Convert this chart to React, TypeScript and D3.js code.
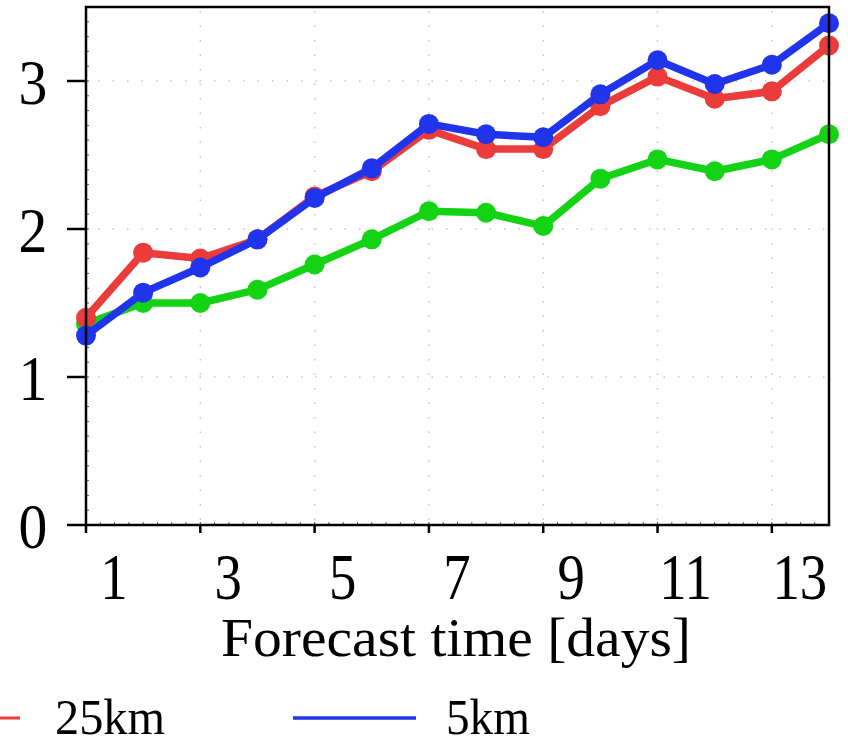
import React from 'react'
import * as d3 from 'd3'

// forecast days
const days = [1, 2, 3, 4, 5, 6, 7, 8, 9, 10, 11, 12, 13, 14]

// series values
const red25km = [1.40, 1.84, 1.80, 1.93, 2.22, 2.39, 2.67, 2.54, 2.54, 2.83, 3.03, 2.88, 2.93, 3.24]
const blue5km = [1.28, 1.57, 1.74, 1.93, 2.21, 2.41, 2.71, 2.64, 2.62, 2.91, 3.14, 2.98, 3.11, 3.39]
const greenSeries = [1.36, 1.50, 1.50, 1.59, 1.76, 1.93, 2.12, 2.11, 2.02, 2.34, 2.47, 2.39, 2.47, 2.64]

const xTicks = [1, 3, 5, 7, 9, 11, 13]
const yTicks = [0, 1, 2, 3]
const legendLabels = ['25km', '5km']

const RED = '#ec3b3b'
const BLUE = '#2034ec'
const GREEN = '#14d214'

const W = 848
const H = 746
const FONT = '"Liberation Serif", "DejaVu Serif", serif'

const App = () => {
    const margin = { left: 86, right: 19, top: 7, bottom: 221 }

    const x = d3.scaleLinear().domain([1, 14]).range([margin.left, W - margin.right])
    const y = d3.scaleLinear().domain([0, 3.5]).range([H - margin.bottom, margin.top])

    const line = d3.line<number>()
        .x((d, i) => x(days[i]))
        .y(d => y(d))

    const series = [
        { vals: greenSeries, color: GREEN },
        { vals: red25km, color: RED },
        { vals: blue5km, color: BLUE },
    ]

    const x0 = x.range()[0], x1 = x.range()[1]
    const y0 = y.range()[0], y1 = y.range()[1]

    // minor ticks along the axes
    const xMinor = d3.range(1, 14.01, 0.25)
    const yMinor = d3.range(0, 3.51, 0.1)

    return (
        <svg width={W} height={H} style={{ position: 'absolute', left: 0, top: 0, background: '#fff' }}>
            {/* grid */}
            <g stroke="#c4c4c4" strokeWidth={1.5} strokeDasharray="1.5,13">
                {xTicks.slice(1).map(t => (
                    <line key={'gx' + t} x1={x(t)} x2={x(t)} y1={y1 + 4} y2={y0} />
                ))}
                {yTicks.slice(1).map(t => (
                    <line key={'gy' + t} x1={x0 + 12} x2={x1} y1={y(t)} y2={y(t)} />
                ))}
            </g>

            {/* minor ticks */}
            <g stroke="#555" strokeWidth={1}>
                {xMinor.map(t => (
                    <line key={'mx' + t} x1={x(t)} x2={x(t)} y1={y0} y2={y0 - 3} />
                ))}
                {yMinor.map(t => (
                    <line key={'my' + t} x1={x0} x2={x0 + 3} y1={y(t)} y2={y(t)} />
                ))}
            </g>

            {/* series */}
            {series.map((s, k) => (
                <g key={k}>
                    <path d={line(s.vals) || ''} fill="none" stroke={s.color} strokeWidth={7.5} strokeLinejoin="round" />
                    {s.vals.map((v, i) => (
                        <circle key={i} cx={x(days[i])} cy={y(v)} r={10} fill={s.color} />
                    ))}
                </g>
            ))}

            {/* frame */}
            <rect x={x0} y={y1} width={x1 - x0} height={y0 - y1} fill="none" stroke="#000" strokeWidth={2.5} />

            {/* y axis */}
            {yTicks.map(t => (
                <g key={'y' + t}>
                    <line x1={x0 - 19} x2={x0} y1={y(t)} y2={y(t)} stroke="#000" strokeWidth={2.5} />
                    <text x={0} y={0} textAnchor="middle" fontFamily={FONT} fontSize={64}
                        transform={`translate(33,${y(t) + 23}) scale(0.9,1)`}>{t}</text>
                </g>
            ))}

            {/* x axis */}
            {xTicks.map(t => (
                <g key={'x' + t}>
                    <line x1={x(t)} x2={x(t)} y1={y0} y2={y0 + 8} stroke="#000" strokeWidth={2.5} />
                    <text x={0} y={0} textAnchor="middle" fontFamily={FONT} fontSize={66}
                        transform={`translate(${x(t) + 28},599) scale(0.83,1)`}>{t}</text>
                </g>
            ))}

            <text x={456} y={656} textAnchor="middle" fontFamily={FONT} fontSize={54}
                textLength={470} lengthAdjust="spacingAndGlyphs">Forecast time [days]</text>

            {/* legend */}
            <line x1={-103} x2={20} y1={718} y2={718} stroke={RED} strokeWidth={3} />
            <text x={55} y={734} fontFamily={FONT} fontSize={50}
                textLength={110} lengthAdjust="spacingAndGlyphs">{legendLabels[0]}</text>
            <line x1={293} x2={416} y1={718} y2={718} stroke={BLUE} strokeWidth={3.5} />
            <text x={446} y={734} fontFamily={FONT} fontSize={50}
                textLength={84} lengthAdjust="spacingAndGlyphs">{legendLabels[1]}</text>
        </svg>
    )
}

export default App
